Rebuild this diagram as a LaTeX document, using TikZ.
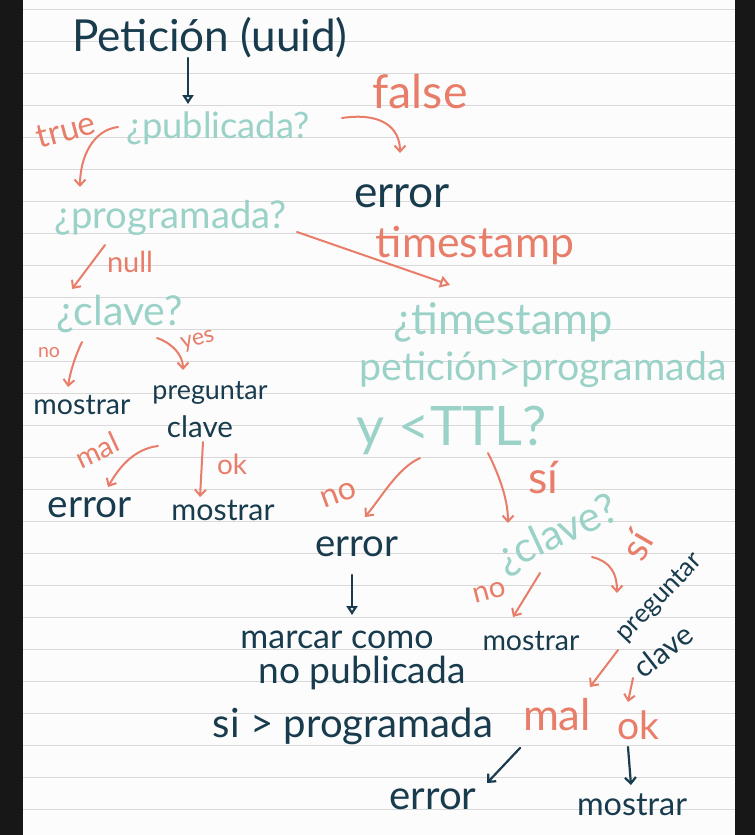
\documentclass[tikz,border=0pt]{standalone}
\usepackage{fontspec}
\setmainfont{Lato}
\usetikzlibrary{arrows.meta,calc}
\definecolor{navy}{HTML}{183C4E}
\definecolor{tealc}{HTML}{9BD2C8}
\definecolor{salm}{HTML}{E87D69}
\definecolor{paper}{HTML}{FCFCFC}
\definecolor{rule}{HTML}{D9D9D9}
\definecolor{band}{HTML}{171717}
\newcommand\wb[2]{\resizebox{#1pt}{!}{#2}}
\begin{document}
\begin{tikzpicture}[x=1pt,y=-1pt,
  nv/.style={text=navy,inner sep=0pt},
  tl/.style={text=tealc,inner sep=0pt},
  sl/.style={text=salm,inner sep=0pt},
  sarr/.style={draw=salm,line width=2pt,line cap=round,-{Straight Barb[length=6pt,width=11pt]}},
  sarrT/.style={draw=salm,line width=2pt,line cap=round,-{Triangle[open,length=10pt,width=12pt]}},
  narr/.style={draw=navy,line width=2.2pt,line cap=round,-{Triangle[open,length=9pt,width=11pt]}},
  nbarb/.style={draw=navy,line width=2.2pt,line cap=round,-{Straight Barb[length=6pt,width=11pt]}}
]
\useasboundingbox (0,0) rectangle (755,835);
\fill[band] (0,0) rectangle (755,835);
\fill[paper] (23,0) rectangle (735,835);
\foreach \k in {0,...,25} \draw[line width=1pt,rule] (23,9.3+32*\k) -- (735,9.3+32*\k);

% left branch
\node[nv] (pet) at (210,38) {\wb{275}{Petición (uuid)}};
\node[tl] (pub) at (218,128) {\wb{183}{¿publicada?}};
\node[sl,rotate=15] (tru) at (66,130) {\wb{60}{true}};
\node[sl] (fal) at (420,92) {\wb{95}{false}};
\node[nv] (err1) at (402,196) {\wb{96}{error}};
\node[tl] (prog) at (171,218) {\wb{232}{¿programada?}};
\node[sl] (ts) at (475,246) {\wb{198}{timestamp}};
\node[sl] (nul) at (130,262) {\wb{46}{null}};
\node[tl] (cl1) at (120,314) {\wb{126}{¿clave?}};
\node[sl] (no1) at (49,353) {\wb{22}{no}};
\node[sl,rotate=15] (yes1) at (198,341) {\wb{34}{yes}};
\node[nv] (most1) at (82,405) {\wb{97}{mostrar}};
\node[nv] (preg1) at (210,393) {\wb{115}{preguntar}};
\node[nv] (clav1) at (200,427) {\wb{66}{clave}};
\node[sl,rotate=25] (mal1) at (97,450) {\wb{45}{mal}};
\node[sl] (ok1) at (232,464) {\wb{30}{ok}};
\node[nv] (err2) at (90,508) {\wb{84}{error}};
\node[nv] (most2) at (223,510) {\wb{103}{mostrar}};

% right branch
\node[tl] (tq1) at (503,322) {\wb{220}{¿timestamp}};
\node[tl] (tq2) at (543,370) {\wb{367}{petición>programada}};
\node[tl] (tq3) at (452,430) {\wb{190}{y <TTL?}};
\node[sl,rotate=20] (no2) at (339,495) {\wb{36}{no}};
\node[sl] (si2) at (543,478) {\wb{30}{sí}};
\node[nv] (err3) at (357,547) {\wb{83}{error}};
\node[nv] (m1) at (337,640) {\wb{193}{marcar como}};
\node[nv] (m2) at (362,673) {\wb{207}{no publicada}};
\node[nv] (m3) at (353,726) {\wb{280}{si > programada}};
\node[tl,rotate=25] (cl2) at (558,535) {\wb{128}{¿clave?}};
\node[sl,rotate=15] (no3) at (490,592) {\wb{33}{no}};
\node[sl,rotate=60] (si3) at (637,545) {\wb{26}{sí}};
\node[nv] (most3) at (531,641) {\wb{97}{mostrar}};
\node[nv,rotate=46] (preg2a) at (660,598) {\wb{112}{preguntar}};
\node[nv,rotate=38] (preg2b) at (663,651) {\wb{66}{clave}};
\node[sl] (mal2) at (557,715) {\wb{68}{mal}};
\node[sl] (ok2) at (638,725) {\wb{42}{ok}};
\node[nv] (err4) at (433,799) {\wb{87}{error}};
\node[nv] (most4) at (632,805) {\wb{110}{mostrar}};

% connectors
\draw[narr] ($(pet)+(-22,20)$) -- ($(pub)+(-30,-24)$);
\draw[sarr] ($(pub)+(-100,-1)$) .. controls +(-25,3) and +(0,-30) .. ($(prog)+(-91,-31)$);
\draw[sarr] ($(pub)+(124,-10)$) .. controls +(40,-6) and +(0,-25) .. ($(err1)+(-2,-43)$);
\draw[sarrT] ($(prog)+(126,14)$) -- ($(tq1)+(-53,-37)$);
\draw[sarr] ($(prog)+(-66,27)$) -- ($(cl1)+(-48,-25)$);
\draw[sarr] ($(cl1)+(-38,28)$) .. controls +(-6,12) and +(2,-15) .. ($(most1)+(-14,-18)$);
\draw[sarr] ($(cl1)+(37,24)$) .. controls +(15,5) and +(0,-15) .. ($(preg1)+(-27,-23)$);
\draw[sarr] ($(clav1)+(-42,19)$) .. controls +(-25,3) and +(10,-18) .. ($(err2)+(18,-21)$);
\draw[sarr] ($(clav1)+(3,15)$) -- ($(most2)+(-23,-13)$);
\draw[sarr] ($(tq3)+(-32,28)$) .. controls +(-22,10) and +(18,-22) .. ($(err3)+(8,-30)$);
\draw[sarr] ($(tq3)+(36,23)$) .. controls +(10,20) and +(0,-25) .. ($(cl2)+(-50,-12)$);
\draw[narr] ($(err3)+(-5,28)$) -- ($(m1)+(15,-25)$);
\draw[sarr] ($(cl2)+(-18,38)$) -- ($(most3)+(-18,-24)$);
\draw[sarr] ($(cl2)+(34,22)$) .. controls +(20,5) and +(0,-18) .. ($(preg2a)+(-43,-5)$);
\draw[sarr] ($(preg2b)+(-45,-1)$) -- ($(mal2)+(33,-28)$);
\draw[sarr] ($(preg2b)+(-30,27)$) -- ($(ok2)+(-10,-23)$);
\draw[nbarb] ($(mal2)+(-37,33)$) -- ($(err4)+(54,-16)$);
\draw[nbarb] ($(ok2)+(-10,22)$) -- ($(most4)+(-1,-20)$);
\end{tikzpicture}
\end{document}
